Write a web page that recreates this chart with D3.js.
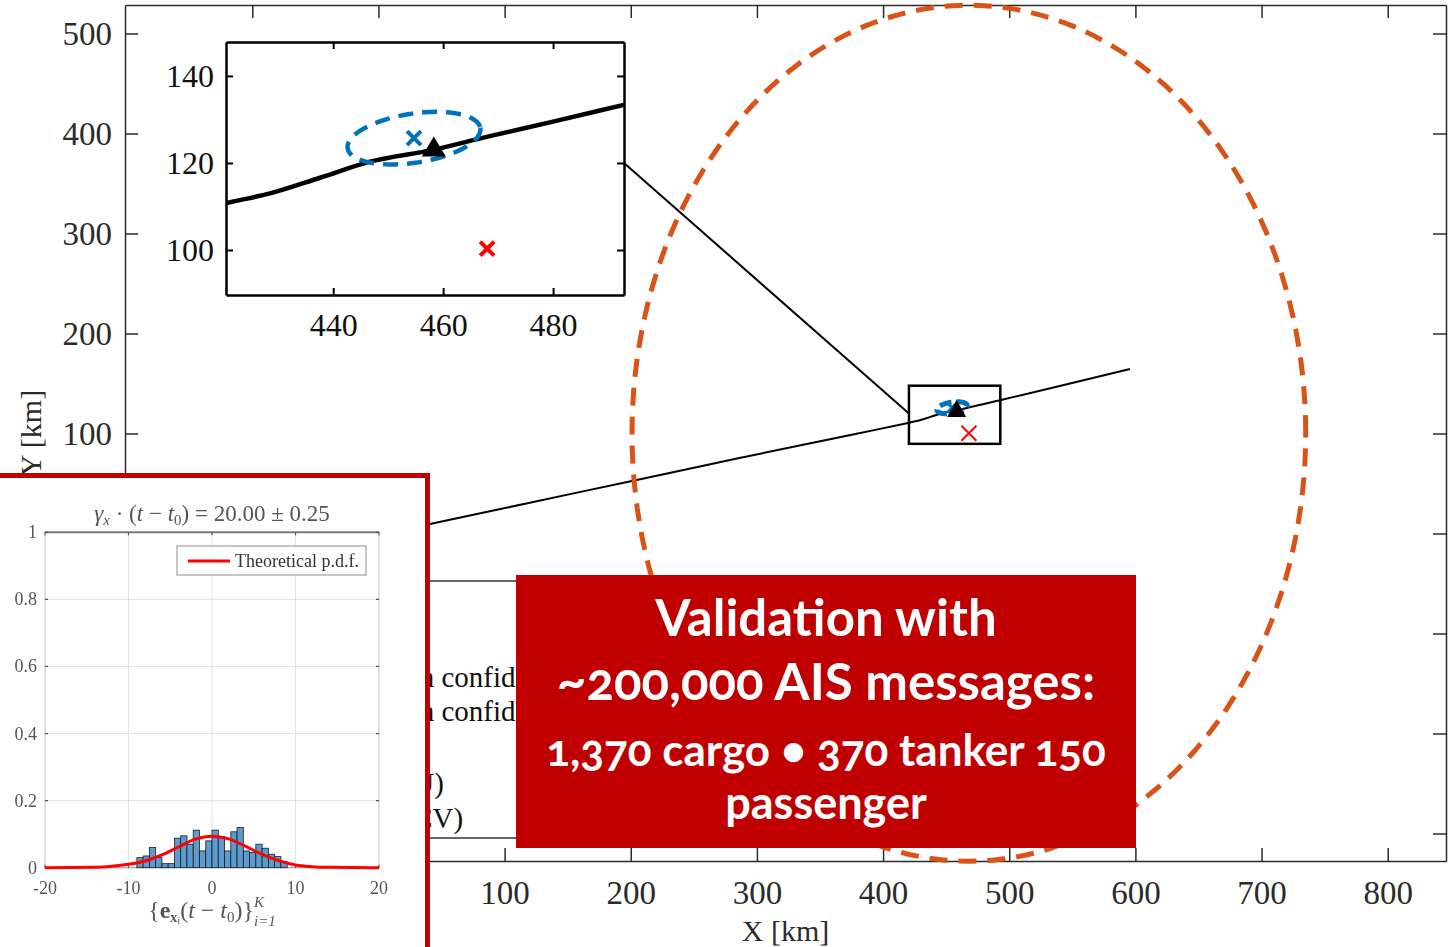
<!DOCTYPE html>
<html>
<head>
<meta charset="utf-8">
<script src="https://cdn.jsdelivr.net/npm/d3@7"></script>
<style>
  html, body { margin: 0; padding: 0; background: #fff; }
  svg { display: block; }
</style>
</head>
<body>
<svg id="chart" width="1452" height="947"></svg>
<script>
// ---------------- data ----------------
// Ship track (X, Y in km)
const trackX = [0, 40.8, 120, 200, 287, 380, 421.7, 428.5, 437.6, 446.7, 458.1, 467.9, 480, 492.7, 540, 595.6];
const trackY = [-1.5, 9.5, 30.8, 52.3, 75.7, 100.0, 111.1, 113.0, 116.6, 120.3, 123.0, 126.0, 129.5, 133.3, 147.5, 164.5];

// Positions (km)
const truePosition = [458.3, 123.3];
const ouPrediction = [454.7, 125.7];
const ncvPrediction = [468, 100.3];

// Confidence ellipses: semi-axes (km) and tilt (deg)
const ouEllipse = { a: 12.3, b: 5.6, angle: 12 };
const ncvEllipse = { a: 267, b: 428, angle: 0 };

// Axis limits and ticks
const xLimits = [-200.9, 846.2];
const yLimits = [-327.5, 528.5];
const xTicks = [-100, 0, 100, 200, 300, 400, 500, 600, 700, 800];
const yTicks = [-300, -200, -100, 0, 100, 200, 300, 400, 500];
const xTickLabels = [100, 200, 300, 400, 500, 600, 700, 800];
const yTickLabels = [100, 200, 300, 400, 500];

// Zoomed view
const zoomXLimits = [420.5, 492.9];
const zoomYLimits = [89.66, 147.8];
const zoomXTicks = [440, 460, 480];
const zoomYTicks = [100, 120, 140];
const zoomLinkY = 120;

// Legend entries
const legendLabels = ["Track", "Truth", "Prediction confidence (OU)", "Prediction confidence (NCV)", "Zoom", "Pred. (OU)", "Pred. (NCV)"];
const legendKinds = ["line", "triangle", "ellipseOU", "ellipseNCV", "box", "xOU", "xNCV"];

// Error histogram (density per bin)
const binStart = -9;
const binWidth = 0.75;
const binDensity = [0.030, 0.035, 0.060, 0.030, 0.012, 0.012, 0.088, 0.095, 0.070, 0.112, 0.050, 0.080,
                    0.112, 0.093, 0.050, 0.107, 0.120, 0.050, 0.045, 0.070, 0.058, 0.040, 0.033, 0.018];
// Theoretical p.d.f. read at these points
const pdfX = [-20, -14, -12, -10, -8, -6, -4, -2, 0, 2, 4, 6, 8, 10, 12, 14, 20];
const pdfY = [0, 0.001, 0.004, 0.010, 0.020, 0.038, 0.062, 0.085, 0.094, 0.086, 0.064, 0.040, 0.021, 0.008, 0.003, 0.001, 0];
const histXLimits = [-20, 20];
const histYLimits = [0, 1];
const histXTicks = [-20, -10, 0, 10, 20];
const histYTicks = [0, 0.2, 0.4, 0.6, 0.8, 1];

// Callout text
const calloutLines = ["Validation with", "~200,000 AIS messages:", "1,370 cargo • 370 tanker 150", "passenger"];

// ---------------- drawing ----------------
const svg = d3.select("#chart");
const defs = svg.append("defs");
const SERIF = "'Liberation Serif', 'Times New Roman', serif";
const AXIS = "#2b2b2b";
const BLUE = "#0072BD";
const ORANGE = "#D95319";
const RED = "#FF0000";

const x = d3.scaleLinear().domain(xLimits).range([125, 1446]);
const y = d3.scaleLinear().domain(yLimits).range([861, 5]);

function ellipsePoints(c, e) {
  const th = e.angle * Math.PI / 180;
  return d3.range(0, 361, 2).map(d => {
    const t = d * Math.PI / 180;
    const u = e.a * Math.cos(t), v = e.b * Math.sin(t);
    return [c[0] + u * Math.cos(th) - v * Math.sin(th), c[1] + u * Math.sin(th) + v * Math.cos(th)];
  });
}
const track = trackX.map((d, i) => [d, trackY[i]]);

function styleAxis(g, size) {
  g.selectAll("path.domain").attr("stroke", AXIS).attr("stroke-width", 1.5);
  g.selectAll(".tick line").attr("stroke", AXIS).attr("stroke-width", 1.5);
  g.selectAll("text").attr("fill", AXIS).attr("font-family", SERIF).attr("font-size", size);
}
const labelIf = list => d => (list.includes(d) ? d : "");

// Main axes
const main = svg.append("g");
main.append("rect").attr("x", 125).attr("y", 5).attr("width", 1321).attr("height", 856).attr("fill", "#fff");

main.append("g").attr("transform", "translate(0,861)")
  .call(d3.axisBottom(x).tickValues(xTicks).tickSize(-13).tickSizeOuter(0).tickPadding(20).tickFormat(labelIf(xTickLabels)))
  .call(g => styleAxis(g, 33));
main.append("g").attr("transform", "translate(0,5)")
  .call(d3.axisTop(x).tickValues(xTicks).tickSize(-13).tickSizeOuter(0).tickFormat(""))
  .call(g => styleAxis(g, 33));
main.append("g").attr("transform", "translate(125,0)")
  .call(d3.axisLeft(y).tickValues(yTicks).tickSize(-13).tickSizeOuter(0).tickPadding(13).tickFormat(labelIf(yTickLabels)))
  .call(g => styleAxis(g, 33));
main.append("g").attr("transform", "translate(1446,0)")
  .call(d3.axisRight(y).tickValues(yTicks).tickSize(-13).tickSizeOuter(0).tickFormat(""))
  .call(g => styleAxis(g, 33));

main.append("text").attr("x", 785.5).attr("y", 941).attr("text-anchor", "middle")
  .attr("font-family", SERIF).attr("font-size", 30).attr("fill", AXIS).text("X [km]");
main.append("text").attr("transform", "translate(41,433) rotate(-90)").attr("text-anchor", "middle")
  .attr("font-family", SERIF).attr("font-size", 30).attr("fill", AXIS).text("Y [km]");

const line = d3.line().x(d => x(d[0])).y(d => y(d[1])).curve(d3.curveMonotoneX);
const closed = d3.line().x(d => x(d[0])).y(d => y(d[1])).curve(d3.curveLinearClosed);

main.append("path").attr("d", line(track)).attr("fill", "none").attr("stroke", "#000").attr("stroke-width", 2);

// NCV confidence ellipse
main.append("path").attr("d", closed(ellipsePoints(ncvPrediction, ncvEllipse)))
  .attr("fill", "none").attr("stroke", ORANGE).attr("stroke-width", 5).attr("stroke-dasharray", "18 11");

// OU confidence ellipse + markers at main scale
main.append("path").attr("d", closed(ellipsePoints(ouPrediction, ouEllipse)))
  .attr("fill", "none").attr("stroke", BLUE).attr("stroke-width", 5).attr("stroke-dasharray", "12 5");

function drawX(g, px, py, r, color, w) {
  g.append("path").attr("d", `M${px - r},${py - r}L${px + r},${py + r}M${px - r},${py + r}L${px + r},${py - r}`)
    .attr("stroke", color).attr("stroke-width", w).attr("fill", "none");
}
function drawTri(g, px, py, w, h) {
  g.append("path").attr("d", `M${px},${py - h * 0.6}L${px + w / 2},${py + h * 0.4}L${px - w / 2},${py + h * 0.4}Z`).attr("fill", "#000");
}
drawX(main, x(ouPrediction[0]), y(ouPrediction[1]), 5, BLUE, 3);
drawTri(main, x(truePosition[0]), y(truePosition[1]), 19, 17);
drawX(main, x(ncvPrediction[0]), y(ncvPrediction[1]), 7.5, RED, 2);

// Zoom box
main.append("rect")
  .attr("x", x(zoomXLimits[0])).attr("y", y(zoomYLimits[1]))
  .attr("width", x(zoomXLimits[1]) - x(zoomXLimits[0]))
  .attr("height", y(zoomYLimits[0]) - y(zoomYLimits[1]))
  .attr("fill", "none").attr("stroke", "#000").attr("stroke-width", 2.5);

// Legend (its right part sits under the callout box)
defs.append("clipPath").attr("id", "legclip")
  .append("rect").attr("x", 230).attr("y", 570).attr("width", 286).attr("height", 280);
const leg = main.append("g").attr("clip-path", "url(#legclip)");
const legRows = [609, 643, 677, 711, 747, 783, 818];
leg.append("rect").attr("x", 240).attr("y", 581).attr("width", 440).attr("height", 257)
  .attr("fill", "#fff").attr("stroke", "#333").attr("stroke-width", 1.5);
legendLabels.forEach((lab, i) => {
  const ry = legRows[i];
  const k = legendKinds[i];
  if (k === "line") leg.append("line").attr("x1", 255).attr("x2", 305).attr("y1", ry).attr("y2", ry).attr("stroke", "#000").attr("stroke-width", 2);
  if (k === "triangle") drawTri(leg, 280, ry, 19, 17);
  if (k === "ellipseOU") leg.append("line").attr("x1", 255).attr("x2", 305).attr("y1", ry).attr("y2", ry).attr("stroke", BLUE).attr("stroke-width", 4).attr("stroke-dasharray", "12 5");
  if (k === "ellipseNCV") leg.append("line").attr("x1", 255).attr("x2", 305).attr("y1", ry).attr("y2", ry).attr("stroke", ORANGE).attr("stroke-width", 4).attr("stroke-dasharray", "12 5");
  if (k === "box") leg.append("rect").attr("x", 268).attr("y", ry - 9).attr("width", 24).attr("height", 18).attr("fill", "none").attr("stroke", "#000").attr("stroke-width", 2);
  if (k === "xOU") drawX(leg, 280, ry, 7, BLUE, 3);
  if (k === "xNCV") drawX(leg, 280, ry, 7, RED, 2);
  leg.append("text").attr("x", 315).attr("y", ry + 10).attr("font-family", SERIF).attr("font-size", 29)
    .attr("fill", "#111").text(lab);
});

// ---------------- zoomed inset ----------------
const zx = d3.scaleLinear().domain(zoomXLimits).range([226, 624]);
const zy = d3.scaleLinear().domain(zoomYLimits).range([295, 42]);
const inset = svg.append("g");

// connector from inset to zoom box
inset.append("line")
  .attr("x1", zx(zoomXLimits[1])).attr("y1", zy(zoomLinkY))
  .attr("x2", x(zoomXLimits[0])).attr("y2", y(zoomLinkY))
  .attr("stroke", "#000").attr("stroke-width", 2);

inset.append("rect").attr("x", 226).attr("y", 42).attr("width", 398).attr("height", 253).attr("fill", "#fff");
defs.append("clipPath").attr("id", "zclip")
  .append("rect").attr("x", 226).attr("y", 42).attr("width", 398).attr("height", 253);

const zplot = inset.append("g").attr("clip-path", "url(#zclip)");
const zline = d3.line().x(d => zx(d[0])).y(d => zy(d[1])).curve(d3.curveMonotoneX);
const zclosed = d3.line().x(d => zx(d[0])).y(d => zy(d[1])).curve(d3.curveLinearClosed);
zplot.append("path").attr("d", zline(track)).attr("fill", "none").attr("stroke", "#000").attr("stroke-width", 4.5);
zplot.append("path").attr("d", zclosed(ellipsePoints(ouPrediction, ouEllipse)))
  .attr("fill", "none").attr("stroke", BLUE).attr("stroke-width", 4.5).attr("stroke-dasharray", "15 9");
drawX(zplot, zx(ouPrediction[0]), zy(ouPrediction[1]), 7, BLUE, 4);
drawTri(zplot, zx(truePosition[0]), zy(truePosition[1]), 24, 20);
drawX(zplot, zx(ncvPrediction[0]), zy(ncvPrediction[1]), 7, RED, 4);

function styleInset(g) {
  g.selectAll("path.domain").attr("stroke", "#000").attr("stroke-width", 2.5);
  g.selectAll(".tick line").attr("stroke", "#000").attr("stroke-width", 2);
  g.selectAll("text").attr("fill", "#111").attr("font-family", SERIF).attr("font-size", 32);
}
inset.append("g").attr("transform", "translate(0,295)")
  .call(d3.axisBottom(zx).tickValues(zoomXTicks).tickSize(-7).tickSizeOuter(0).tickPadding(18)).call(styleInset);
inset.append("g").attr("transform", "translate(0,42)")
  .call(d3.axisTop(zx).tickValues(zoomXTicks).tickSize(-7).tickSizeOuter(0).tickFormat("")).call(styleInset);
inset.append("g").attr("transform", "translate(226,0)")
  .call(d3.axisLeft(zy).tickValues(zoomYTicks).tickSize(-7).tickSizeOuter(0).tickPadding(12)).call(styleInset);
inset.append("g").attr("transform", "translate(624,0)")
  .call(d3.axisRight(zy).tickValues(zoomYTicks).tickSize(-7).tickSizeOuter(0).tickFormat("")).call(styleInset);

// ---------------- histogram panel ----------------
defs.append("filter").attr("id", "soft").append("feGaussianBlur").attr("stdDeviation", 0.55);

const panel = svg.append("g");
panel.append("rect").attr("x", -10).attr("y", 475.5).attr("width", 437.5).attr("height", 490)
  .attr("fill", "#fff").attr("stroke", "#C00000").attr("stroke-width", 5);

const hx = d3.scaleLinear().domain(histXLimits).range([45, 379]);
const hy = d3.scaleLinear().domain(histYLimits).range([867.7, 532.3]);
const hist = panel.append("g").attr("filter", "url(#soft)");
const GRAY = "#555";

// grid
hist.selectAll(".gv").data(histXTicks).join("line")
  .attr("x1", d => hx(d)).attr("x2", d => hx(d)).attr("y1", hy(0)).attr("y2", hy(1))
  .attr("stroke", "#e4e4e4").attr("stroke-width", 1);
hist.selectAll(".gh").data(histYTicks).join("line")
  .attr("x1", hx(-20)).attr("x2", hx(20)).attr("y1", d => hy(d)).attr("y2", d => hy(d))
  .attr("stroke", "#e4e4e4").attr("stroke-width", 1);
// frame
hist.append("line").attr("x1", hx(-20)).attr("x2", hx(20)).attr("y1", hy(1)).attr("y2", hy(1)).attr("stroke", "#7a7a7a").attr("stroke-width", 2);
hist.append("line").attr("x1", hx(-20)).attr("x2", hx(20)).attr("y1", hy(0)).attr("y2", hy(0)).attr("stroke", "#999").attr("stroke-width", 1);
hist.append("line").attr("x1", hx(-20)).attr("x2", hx(-20)).attr("y1", hy(0)).attr("y2", hy(1)).attr("stroke", "#d0d0d0").attr("stroke-width", 1);
hist.append("line").attr("x1", hx(20)).attr("x2", hx(20)).attr("y1", hy(0)).attr("y2", hy(1)).attr("stroke", "#d0d0d0").attr("stroke-width", 1);
// small ticks
hist.selectAll(".tl").data(histYTicks).join("path")
  .attr("d", d => `M${hx(-20)},${hy(d)}h3M${hx(20)},${hy(d)}h-3`).attr("stroke", GRAY).attr("stroke-width", 1.2);
hist.selectAll(".tb").data(histXTicks).join("path")
  .attr("d", d => `M${hx(d)},${hy(0)}v-3M${hx(d)},${hy(1)}v3`).attr("stroke", GRAY).attr("stroke-width", 1.2);

// bars
hist.selectAll(".bar").data(binDensity).join("rect")
  .attr("x", (d, i) => hx(binStart + i * binWidth))
  .attr("width", hx(binWidth) - hx(0))
  .attr("y", d => hy(d)).attr("height", d => hy(0) - hy(d))
  .attr("fill", "#5b9bd0").attr("stroke", "#1c1c1c").attr("stroke-width", 0.8);

// theoretical pdf
const pdfLine = d3.line().x(d => hx(d[0])).y(d => hy(d[1])).curve(d3.curveMonotoneX);
hist.append("path").attr("d", pdfLine(pdfX.map((d, i) => [d, pdfY[i]])))
  .attr("fill", "none").attr("stroke", RED).attr("stroke-width", 3);

// tick labels
hist.selectAll(".yl").data(histYTicks).join("text")
  .attr("x", 37).attr("y", d => hy(d) + 6).attr("text-anchor", "end")
  .attr("font-family", SERIF).attr("font-size", 18).attr("fill", GRAY).text(d => d);
hist.selectAll(".xl").data(histXTicks).join("text")
  .attr("x", d => hx(d)).attr("y", 894).attr("text-anchor", "middle")
  .attr("font-family", SERIF).attr("font-size", 18).attr("fill", GRAY).text(d => d);

// legend
hist.append("rect").attr("x", 177).attr("y", 546).attr("width", 189).attr("height", 29)
  .attr("fill", "#fff").attr("stroke", "#a0a0a0").attr("stroke-width", 1.2);
hist.append("line").attr("x1", 188).attr("x2", 230).attr("y1", 561).attr("y2", 561).attr("stroke", RED).attr("stroke-width", 3);
hist.append("text").attr("x", 235).attr("y", 567).attr("font-family", SERIF).attr("font-size", 18)
  .attr("fill", "#333").text("Theoretical p.d.f.");

// title
const title = hist.append("text").attr("x", 212).attr("y", 521).attr("text-anchor", "middle")
  .attr("font-family", SERIF).attr("font-size", 23).attr("fill", GRAY);
title.append("tspan").attr("font-style", "italic").text("γ");
title.append("tspan").attr("font-style", "italic").attr("font-size", 15).attr("dy", 4).text("x");
title.append("tspan").attr("dy", -4).text(" · (");
title.append("tspan").attr("font-style", "italic").text("t");
title.append("tspan").text(" − ");
title.append("tspan").attr("font-style", "italic").text("t");
title.append("tspan").attr("font-size", 15).attr("dy", 4).text("0");
title.append("tspan").attr("dy", -4).text(") = 20.00 ± 0.25");

// x label
const xl = hist.append("text").attr("x", 212).attr("y", 918).attr("text-anchor", "middle")
  .attr("font-family", SERIF).attr("font-size", 24).attr("fill", GRAY);
xl.append("tspan").text("{");
xl.append("tspan").attr("font-weight", "bold").text("e");
xl.append("tspan").attr("font-weight", "bold").attr("font-size", 14).attr("dy", 4).text("x");
xl.append("tspan").attr("font-style", "italic").attr("font-size", 10).attr("dy", 2).text("i");
xl.append("tspan").attr("dy", -6).text("(");
xl.append("tspan").attr("font-style", "italic").text("t");
xl.append("tspan").text(" − ");
xl.append("tspan").attr("font-style", "italic").text("t");
xl.append("tspan").attr("font-size", 15).attr("dy", 4).text("0");
xl.append("tspan").attr("dy", -4).text(")}");
xl.append("tspan").attr("font-style", "italic").attr("font-size", 15).attr("dy", -11).text("K");
xl.append("tspan").attr("font-style", "italic").attr("font-size", 15).attr("dx", -10).attr("dy", 19).text("i=1");

// ---------------- callout ----------------
const call = svg.append("g");
call.append("rect").attr("x", 516).attr("y", 575).attr("width", 620).attr("height", 273).attr("fill", "#C00000");
const calloutBase = [636, 700, 766, 819];
const calloutSize = [51, 51, 44, 45];
calloutLines.forEach((t, i) => {
  call.append("text").attr("x", 826).attr("y", calloutBase[i]).attr("text-anchor", "middle")
    .attr("font-family", "Lato, 'Open Sans', sans-serif").attr("font-weight", 700)
    .attr("font-size", calloutSize[i]).attr("fill", "#fff")
    .style("font-variant-numeric", "oldstyle-nums")
    .text(t);
});
</script>
</body>
</html>
